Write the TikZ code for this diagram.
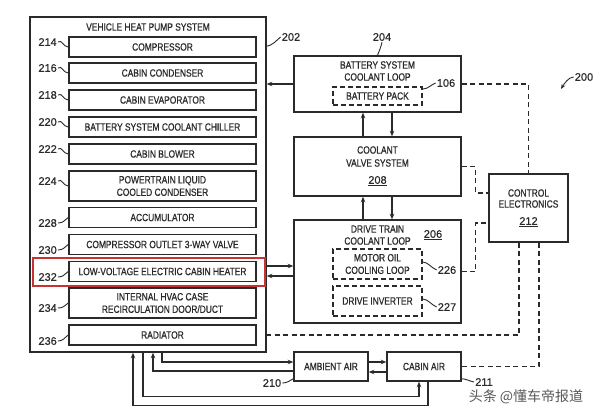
\documentclass[tikz,border=0pt]{standalone}
\usepackage{fontspec}
\setmainfont{Liberation Sans}[FakeStretch=0.8,FakeBold=0.6]
\newfontfamily\numfont{Liberation Sans}[FakeBold=0.4]
\newfontfamily\cjkfont{Noto Sans CJK SC}
\usetikzlibrary{arrows.meta,calc}
\definecolor{ink}{HTML}{2A2A2A}
\definecolor{hl}{HTML}{C83232}
\begin{document}
\begin{tikzpicture}[x=1pt,y=-1pt,
  box/.style={draw=ink, line width=1.5pt, inner sep=0pt, text=ink, font=\fontsize{10.5}{12.5}\selectfont, align=center},
  ibox/.style={box, minimum width=187pt, minimum height=20pt},
  dbox/.style={box, dash pattern=on 5pt off 3pt, minimum width=89pt},
  txt/.style={inner sep=0pt, text=ink, font=\fontsize{10.5}{12.5}\selectfont, align=center},
  num/.style={inner sep=0pt, text=ink, font=\numfont\fontsize{11}{12}\selectfont},
  lead/.style={draw=ink, line width=0.9pt},
  conn/.style={draw=ink, line width=1.2pt},
  arr/.style={conn, -{Stealth[length=5.5pt,width=4.5pt]}},
  dsh/.style={conn, dash pattern=on 5pt off 3.5pt},
]
\path[use as bounding box, fill=white] (0,0) rectangle (600,416);

% main heat pump box
\node[box, minimum width=236pt, minimum height=335pt] (hp) at (148,184.5) {};
\node[txt] (hpt) at (148,27) {VEHICLE HEAT PUMP SYSTEM};
\node[ibox] (comp) at (162.5,47) {COMPRESSOR};
\node[ibox] (cond) at (162.5,73) {CABIN CONDENSER};
\node[ibox] (evap) at (162.5,100) {CABIN EVAPORATOR};
\node[ibox] (chill) at (162.5,127) {BATTERY SYSTEM COOLANT CHILLER};
\node[ibox] (blow) at (162.5,154) {CABIN BLOWER};
\node[ibox, minimum height=30pt] (ptc) at (162.5,186) {POWERTRAIN LIQUID\\COOLED CONDENSER};
\node[ibox] (acc) at (162.5,217.5) {ACCUMULATOR};
\node[ibox] (cov) at (162.5,244.5) {COMPRESSOR OUTLET 3-WAY VALVE};
\node[ibox] (lvh) at (162.5,271.5) {LOW-VOLTAGE ELECTRIC CABIN HEATER};
\node[ibox, minimum height=30pt] (hvac) at (162.5,303) {INTERNAL HVAC CASE\\RECIRCULATION DOOR/DUCT};
\node[ibox] (rad) at (162.5,335) {RADIATOR};
\node[draw=hl, line width=1.1pt, minimum width=232pt, minimum height=28pt, inner sep=0pt] (hlbox) at (149,272) {};

% left labels
\node[num, anchor=east] (n214) at (57,42) {214};
\node[num, anchor=east] (n216) at (57,68) {216};
\node[num, anchor=east] (n218) at (57,95) {218};
\node[num, anchor=east] (n220) at (57,122) {220};
\node[num, anchor=east] (n222) at (57,149) {222};
\node[num, anchor=east] (n224) at (57,181) {224};
\node[num, anchor=east] (n228) at (57,223) {228};
\node[num, anchor=east] (n230) at (57,250) {230};
\node[num, anchor=east] (n232) at (57,277) {232};
\node[num, anchor=east] (n234) at (57,308) {234};
\node[num, anchor=east] (n236) at (57,341) {236};
\foreach \a/\b in {n214/comp,n216/cond,n218/evap,n220/chill,n222/blow,n224/ptc}
  \draw[lead] ([xshift=1pt]\a.east) .. controls +(4,-3) and +(-5,0) .. (\b.west);
\foreach \a/\b in {n228/acc,n230/cov,n232/lvh,n234/hvac,n236/rad}
  \draw[lead] ([xshift=1pt]\a.east) .. controls +(5,0) and +(-4,3) .. (\b.west);

% right column
\node[box, minimum width=167pt, minimum height=56pt] (bat) at (377.5,84) {};
\node[txt] (batt1) at (377.5,65) {BATTERY SYSTEM};
\node[txt] (batt2) at (377.5,77) {COOLANT LOOP};
\node[dbox, minimum height=18pt] (bp) at (377.5,96) {BATTERY PACK};

\node[box, minimum width=167pt, minimum height=59pt] (cvs) at (377.5,166.5) {};
\node[txt] (cvst1) at (377.5,150) {COOLANT};
\node[txt] (cvst2) at (377.5,163) {VALVE SYSTEM};
\node[num] (n208) at (377.5,181) {\underline{208}};

\node[box, minimum width=167pt, minimum height=103pt] (dt) at (377.5,271.5) {};
\node[txt] (dtt1) at (377.5,229) {DRIVE TRAIN};
\node[txt] (dtt2) at (377.5,241) {COOLANT LOOP};
\node[num] (n206) at (433,235) {\underline{206}};
\node[dbox, minimum height=30pt] (mo) at (377.5,264) {MOTOR OIL\\COOLING LOOP};
\node[dbox, minimum height=30pt] (inv) at (377.5,301) {DRIVE INVERTER};

\node[box, minimum width=79pt, minimum height=68pt] (ctrl) at (528.5,208) {};
\node[txt] (ctrlt1) at (528.5,193) {CONTROL};
\node[txt] (ctrlt2) at (528.5,204) {ELECTRONICS};
\node[num] (n212) at (528.5,222) {\underline{212}};

\node[box, minimum width=74pt, minimum height=29pt] (amb) at (331,366.5) {AMBIENT AIR};
\node[box, minimum width=74pt, minimum height=29pt] (cab) at (424,366.5) {CABIN AIR};

% number labels on right
\node[num] (n202) at (291,37) {202};
\node[num] (n204) at (382,37) {204};
\node[num] (n106) at (446,83) {106};
\node[num] (n226) at (447,270) {226};
\node[num] (n227) at (447,307) {227};
\node[num] (n210) at (272,383) {210};
\node[num] (n211) at (484,382) {211};
\node[num] (n200) at (584,77) {200};
\coordinate (a200) at (561,89);

\draw[lead] ($(hp.north east)+(0,30)$) .. controls +(6,-1) and +(-5,4) .. ([xshift=-1pt]n202.west);
\draw[lead] ([yshift=-1pt]n204.south) .. controls +(-1,5) and +(2,-5) .. (bat.north);
\draw[lead] ([yshift=7pt]bp.east) .. controls +(5,0) and +(-5,2) .. ([xshift=-1pt]n106.west);
\draw[lead] ([yshift=2pt]mo.east) .. controls +(5,0) and +(-5,-2) .. ([xshift=-1pt]n226.west);
\draw[lead] ([yshift=2pt]inv.east) .. controls +(5,0) and +(-5,-2) .. ([xshift=-1pt]n227.west);
\draw[lead] ([xshift=1pt]n210.east) .. controls +(5,0) and +(-4,2) .. ([yshift=3pt]amb.south west);
\draw[lead] ([yshift=3pt]cab.south east) .. controls +(4,0) and +(-5,-1) .. ([xshift=-1pt]n211.west);
\draw[lead, -{Stealth[length=5pt,width=4pt]}] ([xshift=-1pt]n200.west) .. controls +(-5,0) and +(3,-5) .. (a200);

% solid connectors
\draw[arr] (bat.west) -- (bat.west -| hp.east);
\draw[arr] ([xshift=-14.5pt]cvs.north) -- ([xshift=-14.5pt]bat.south);
\draw[arr] ([xshift=14.5pt]bat.south) -- ([xshift=14.5pt]cvs.north);
\draw[arr] ([xshift=-14.5pt]dt.north) -- ([xshift=-14.5pt]cvs.south);
\draw[arr] ([xshift=14.5pt]cvs.south) -- ([xshift=14.5pt]dt.north);
\coordinate (dtin) at ([yshift=5.5pt]dt.west);
\coordinate (dtout) at ([yshift=-4.5pt]dt.west);
\draw[arr] (dtin -| hp.east) -- (dtin);
\draw[arr] (dtout) -- (dtout -| hp.east);
\draw[arr] ([yshift=4.5pt]amb.east) -- ([yshift=4.5pt]cab.west);
\draw[arr] ([yshift=-5.5pt]cab.west) -- ([yshift=-5.5pt]amb.east);
\draw[arr] ([xshift=14pt]hp.south) |- ([yshift=4.5pt]amb.west);
\draw[arr] ([yshift=-4.5pt]amb.west) -| ([xshift=5pt]hp.south);
\draw[arr] ([xshift=-5pt]hp.south) -- ++(0,44) -| ([xshift=-5pt]cab.south);
\draw[arr] ([xshift=4pt]cab.south) -- ++(0,24) -| ([xshift=-15pt]hp.south);

% dashed control lines
\draw[dsh] (bat.east) -| (ctrl.north);
\draw[dsh] (cvs.east) -- ++(14,0) |- ([yshift=15pt]ctrl.west);
\draw[dsh] (dt.east) -- ++(14,0) |- ([yshift=-15pt]ctrl.west);
\draw[dsh] ([xshift=-9.5pt]ctrl.south) |- (rad.east -| hp.east);
\draw[dsh] ([xshift=10.5pt]ctrl.south) |- (cab.east);

% watermark
\node[inner sep=0pt, text=black!65, font=\cjkfont\fontsize{14}{14}\selectfont] (wm) at (526,397) {头条 @懂车帝报道};
\end{tikzpicture}
\end{document}
